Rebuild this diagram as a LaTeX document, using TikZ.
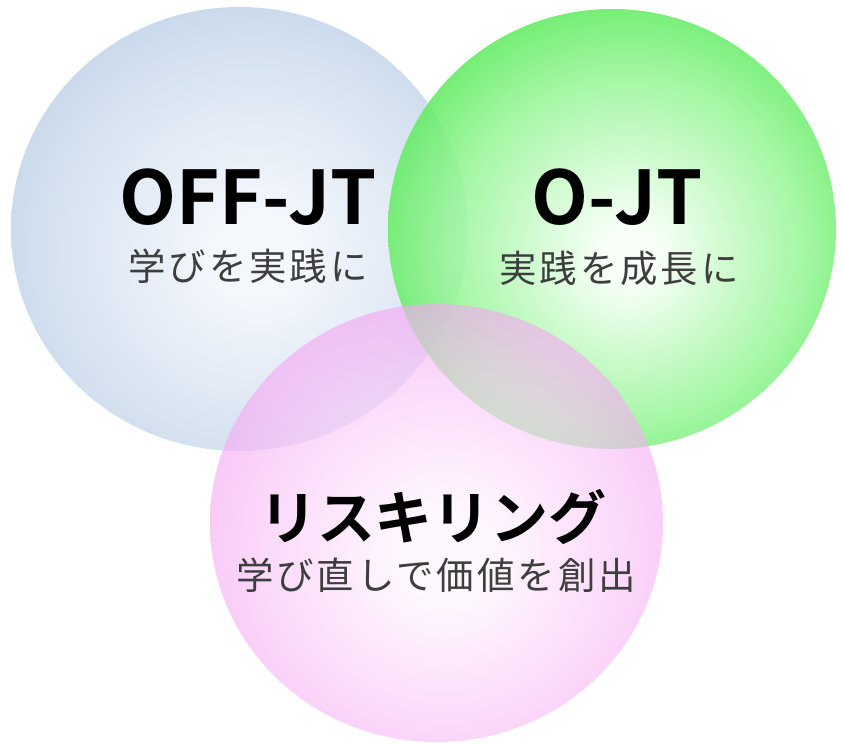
\documentclass[tikz,border=0pt]{standalone}
\usepackage{fontspec}
\newfontfamily\jptitle{Noto Sans CJK JP Bold}
\newfontfamily\jpsub[LetterSpace=8]{Noto Sans CJK JP}
\definecolor{bIn}{RGB}{244,247,252}
\definecolor{bMid}{RGB}{218,229,242}
\definecolor{bOut}{RGB}{184,206,230}
\definecolor{gIn}{RGB}{248,255,248}
\definecolor{gMid}{RGB}{150,246,150}
\definecolor{gOut}{RGB}{60,228,60}
\definecolor{pIn}{RGB}{254,244,254}
\definecolor{pMid}{RGB}{250,196,248}
\definecolor{pOut}{RGB}{240,138,238}
\definecolor{subgray}{RGB}{62,62,62}
% in \shade the path's edge lies at about 35bp
\pgfdeclareradialshading{blueball}{\pgfpoint{2bp}{-3bp}}{color(0bp)=(bIn);color(5bp)=(bIn);color(20bp)=(bMid);color(36bp)=(bOut);color(100bp)=(bOut)}
\pgfdeclareradialshading{greenball}{\pgfpoint{2bp}{-3bp}}{color(0bp)=(gIn);color(3bp)=(gIn);color(20bp)=(gMid);color(33bp)=(gOut);color(100bp)=(gOut)}
\pgfdeclareradialshading{pinkball}{\pgfpoint{1bp}{-4bp}}{color(0bp)=(pIn);color(5bp)=(pIn);color(20bp)=(pMid);color(36bp)=(pOut);color(100bp)=(pOut)}
\tikzset{
  title/.style={font=\jptitle\fontsize{37}{42}\selectfont, text=black, inner sep=0pt},
  bigtitle/.style={font=\jptitle\fontsize{29}{34}\selectfont, text=black, inner sep=0pt},
  subtitle/.style={font=\jpsub\fontsize{18.7}{22}\selectfont, text=subgray, inner sep=0pt}
}
\begin{document}
\begin{tikzpicture}[x=0.5pt,y=-0.5pt]
\useasboundingbox[fill=white] (0,0) rectangle (843,744);
% circles
\shade[shading=blueball] (239.5,229) ellipse [x radius=228.5, y radius=222];
\shade[shading=greenball, opacity=0.87] (612,229) ellipse [x radius=224, y radius=220];
\shade[shading=pinkball, opacity=0.64] (436.5,523) ellipse [x radius=226.5, y radius=219];
% texts
\node[title] (offjt) at (248,197) {OFF-JT};
\node[subtitle] (offsub) at (248,266) {学びを実践に};
\node[title] (ojt) at (617,197) {O-JT};
\node[subtitle] (ojtsub) at (619,268) {実践を成長に};
\node[bigtitle] (reskill) at (433,517) {リスキリング};
\node[subtitle] (reskillsub) at (436,575) {学び直しで価値を創出};
\end{tikzpicture}
\end{document}
